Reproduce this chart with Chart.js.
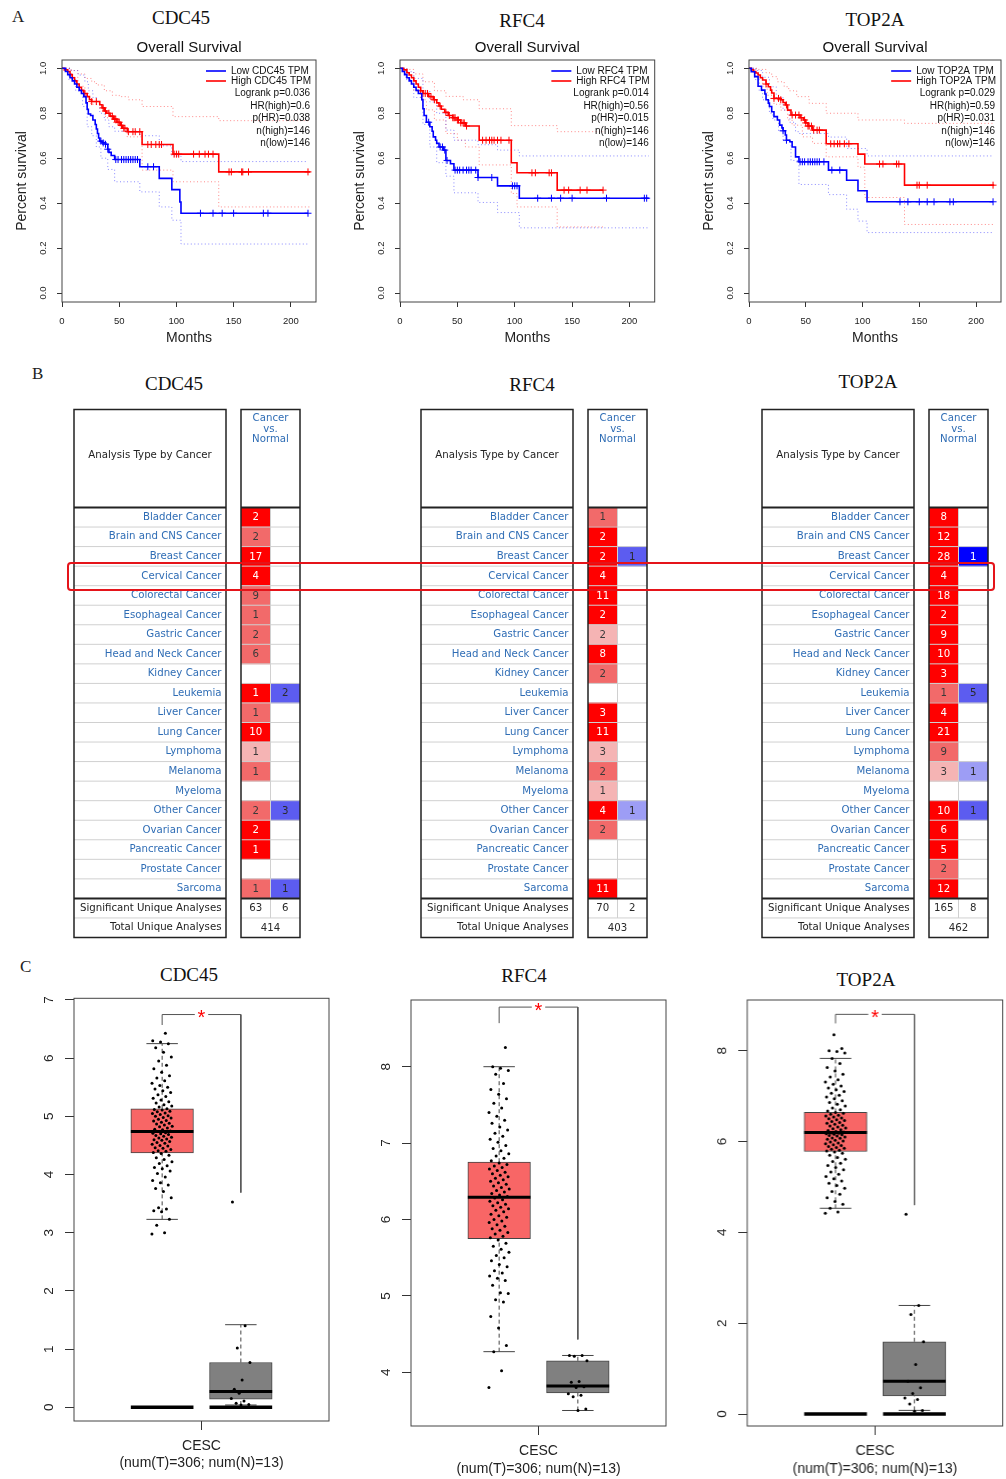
<!DOCTYPE html>
<html>
<head>
<meta charset="utf-8">
<title>CDC45 / RFC4 / TOP2A</title>
<script src="https://cdn.jsdelivr.net/npm/chart.js@4.4.1/dist/chart.umd.min.js"></script>
<style>
  html, body { margin: 0; padding: 0; background: #fff; }
  #page { position: relative; width: 1006px; height: 1479px; overflow: hidden; }
  .panel-tag { position: absolute; font-family: "Liberation Serif", serif; font-size: 17px; color: #222; transform: translateY(-50%); }
  .gene { position: absolute; font-family: "Liberation Serif", serif; font-size: 19px; color: #111; transform: translate(-50%, -50%); white-space: nowrap; }
  .cv { position: absolute; }
  #focus { position: absolute; left: 67px; top: 561.5px; width: 928px; height: 29.5px; box-sizing: border-box;
           border: 2.5px solid #e5141a; border-radius: 4px; z-index: 5; }
</style>
</head>
<body>
<div id="page">
  <div class="panel-tag" style="left:12px;top:17px">A</div>
  <div class="panel-tag" style="left:32px;top:374px">B</div>
  <div class="panel-tag" style="left:20px;top:967px">C</div>

  <div class="gene" id="geneA0" style="left:181px;top:18px"></div>
  <div class="gene" id="geneA1" style="left:522px;top:20.5px"></div>
  <div class="gene" id="geneA2" style="left:875px;top:20px"></div>
  <div class="gene" id="geneB0" style="left:174px;top:384px"></div>
  <div class="gene" id="geneB1" style="left:532px;top:385px"></div>
  <div class="gene" id="geneB2" style="left:868px;top:382px"></div>
  <div class="gene" id="geneC0" style="left:189px;top:975px"></div>
  <div class="gene" id="geneC1" style="left:524px;top:976px"></div>
  <div class="gene" id="geneC2" style="left:866px;top:980px"></div>

  <div class="cv" style="left:0;top:0;width:330px;height:350px"><canvas id="kmCdc45"></canvas></div>
  <div class="cv" style="left:338.3px;top:0;width:330px;height:350px"><canvas id="kmRfc4"></canvas></div>
  <div class="cv" style="left:687px;top:0;width:319px;height:350px"><canvas id="kmTop2a"></canvas></div>

  <div class="cv" style="left:60.5px;top:400px;width:250px;height:570px"><canvas id="tabCdc45"></canvas></div>
  <div class="cv" style="left:407.7px;top:400px;width:250px;height:570px"><canvas id="tabRfc4"></canvas></div>
  <div class="cv" style="left:749px;top:400px;width:250px;height:570px"><canvas id="tabTop2a"></canvas></div>
  <div id="focus"></div>

  <div class="cv" style="left:0;top:960px;width:340px;height:519px"><canvas id="boxCdc45"></canvas></div>
  <div class="cv" style="left:336.7px;top:960px;width:340px;height:519px"><canvas id="boxRfc4"></canvas></div>
  <div class="cv" style="left:673.3px;top:960px;width:332.7px;height:519px"><canvas id="boxTop2a"></canvas></div>
</div>

<script>
/* =========================
   DATA
========================= */

const genes = ['CDC45', 'RFC4', 'TOP2A'];

// --- A: overall survival (months, survival fraction) ---
const kmXTicks = [0, 50, 100, 150, 200];
const kmYTicks = [0, 0.2, 0.4, 0.6, 0.8, 1.0];

const cdc45Low = [[0,1],[3,0.986],[5,0.972],[7,0.958],[9,0.944],[11,0.93],[13,0.916],[15,0.902],[17,0.888],[19,0.874],[21,0.846],[22,0.818],[23,0.797],[25,0.79],[27,0.77],[29,0.75],[30,0.73],[31,0.71],[32,0.69],[33,0.676],[35,0.668],[38,0.662],[40,0.64],[41,0.626],[43,0.612],[46,0.594],[68,0.562],[85,0.51],[96,0.46],[103,0.405],[104,0.355],[215,0.355]];
const cdc45High = [[0,1],[2,0.993],[5,0.986],[7,0.972],[9,0.958],[11,0.944],[13,0.93],[15,0.916],[17,0.902],[19,0.888],[22,0.874],[24,0.86],[26,0.852],[33,0.838],[35,0.824],[37,0.81],[39,0.8],[42,0.787],[45,0.774],[48,0.76],[51,0.746],[53,0.733],[57,0.718],[70,0.661],[97,0.618],[137,0.539],[217,0.539]];
const cdc45LowCensor = [34,36,38,40,47,49,52,54,56,58,60,62,64,66,75,80,121,132,140,150,176,180,215];
const cdc45HighCensor = [20,26,30,36,38,41,44,46,47,49,50,52,54,55,58,62,64,68,75,78,82,85,87,98,100,102,115,120,125,128,132,146,148,157,158,163,215];
const cdc45LowUpper = [[0,1],[8,0.99],[14,0.97],[20,0.94],[23,0.9],[27,0.87],[30,0.84],[33,0.8],[37,0.77],[41,0.74],[46,0.72],[68,0.7],[85,0.655],[96,0.61],[104,0.585],[215,0.585]];
const cdc45LowLower = [[0,1],[6,0.95],[12,0.9],[18,0.83],[22,0.74],[26,0.7],[30,0.65],[34,0.6],[40,0.55],[46,0.495],[68,0.45],[85,0.383],[96,0.324],[104,0.218],[215,0.218]];
const cdc45HighUpper = [[0,1],[8,0.99],[14,0.975],[20,0.955],[26,0.94],[30,0.926],[37,0.9],[44,0.88],[50,0.874],[58,0.86],[70,0.83],[97,0.785],[137,0.767],[217,0.767]];
const cdc45HighLower = [[0,1],[8,0.96],[14,0.92],[20,0.87],[25,0.84],[33,0.82],[38,0.78],[45,0.755],[52,0.72],[57,0.695],[70,0.547],[97,0.495],[137,0.383],[217,0.383]];
const cdc45Stats = ['Logrank p=0.036', 'HR(high)=0.6', 'p(HR)=0.038', 'n(high)=146', 'n(low)=146'];

const rfc4Low = [[0,1],[2,0.986],[4,0.972],[6,0.958],[8,0.944],[10,0.93],[12,0.916],[14,0.902],[16,0.888],[19,0.86],[20,0.82],[21,0.79],[23,0.76],[26,0.74],[28,0.72],[29,0.695],[31,0.68],[32,0.666],[34,0.65],[38,0.636],[40,0.59],[44,0.575],[47,0.547],[68,0.514],[85,0.477],[104,0.422],[217,0.422]];
const rfc4High = [[0,1],[3,0.993],[6,0.98],[8,0.97],[10,0.958],[12,0.944],[14,0.93],[16,0.916],[18,0.9],[20,0.888],[25,0.874],[29,0.86],[32,0.846],[34,0.832],[36,0.818],[39,0.804],[42,0.79],[46,0.78],[50,0.77],[53,0.757],[57,0.743],[69,0.68],[97,0.58],[102,0.535],[137,0.458],[177,0.458]];
const rfc4LowCensor = [25,35,37,39,41,48,50,52,55,58,60,62,66,68,80,98,100,102,120,132,140,150,180,213,215];
const rfc4HighCensor = [18,20,22,24,27,30,35,40,43,46,47,48,50,51,53,55,56,58,72,75,78,80,82,85,88,95,115,118,130,132,143,147,157,163,177];
const rfc4LowUpper = [[0,1],[6,0.985],[12,0.955],[20,0.9],[26,0.85],[32,0.8],[40,0.725],[47,0.68],[68,0.66],[85,0.636],[104,0.61],[217,0.61]];
const rfc4LowLower = [[0,1],[5,0.95],[12,0.87],[20,0.75],[26,0.65],[32,0.58],[40,0.52],[47,0.446],[68,0.403],[85,0.358],[104,0.29],[217,0.29]];
const rfc4HighUpper = [[0,1],[6,0.995],[12,0.975],[20,0.94],[30,0.9],[40,0.875],[55,0.86],[69,0.82],[97,0.745],[137,0.718],[177,0.718]];
const rfc4HighLower = [[0,1],[6,0.97],[12,0.9],[18,0.86],[23,0.815],[30,0.77],[40,0.71],[50,0.68],[57,0.65],[69,0.57],[97,0.443],[102,0.383],[137,0.294],[177,0.294]];
const rfc4Stats = ['Logrank p=0.014', 'HR(high)=0.56', 'p(HR)=0.015', 'n(high)=146', 'n(low)=146'];

const top2aLow = [[0,1],[2,0.985],[5,0.963],[8,0.92],[11,0.903],[14,0.886],[15,0.86],[17,0.845],[18,0.83],[20,0.807],[22,0.785],[25,0.77],[27,0.747],[29,0.735],[30,0.722],[32,0.703],[33,0.68],[36,0.673],[38,0.65],[41,0.606],[44,0.584],[70,0.547],[86,0.502],[96,0.455],[104,0.406],[215,0.406]];
const top2aHigh = [[0,1],[2,0.993],[4,0.986],[6,0.979],[8,0.97],[10,0.958],[12,0.948],[15,0.93],[17,0.918],[19,0.903],[20,0.89],[22,0.866],[28,0.86],[30,0.848],[32,0.837],[34,0.814],[37,0.792],[45,0.78],[48,0.77],[50,0.757],[52,0.743],[56,0.725],[68,0.664],[96,0.618],[102,0.574],[137,0.48],[216,0.48]];
const top2aLowCensor = [30,33,45,47,49,52,54,56,58,60,62,66,73,80,133,140,150,157,163,177,180,215];
const top2aHighCensor = [15,22,26,28,33,38,41,44,46,49,50,52,53,55,57,60,62,72,75,78,80,84,88,115,118,130,132,148,150,157,215];
const top2aLowUpper = [[0,1],[6,0.99],[12,0.96],[18,0.918],[24,0.87],[30,0.814],[36,0.76],[41,0.718],[44,0.71],[70,0.694],[86,0.643],[104,0.61],[215,0.61]];
const top2aLowLower = [[0,1],[5,0.95],[9,0.9],[12,0.86],[18,0.8],[21,0.77],[26,0.72],[30,0.68],[37,0.59],[44,0.483],[70,0.438],[86,0.373],[96,0.32],[104,0.269],[215,0.269]];
const top2aHighUpper = [[0,1],[8,0.995],[15,0.98],[20,0.963],[25,0.94],[31,0.918],[35,0.9],[42,0.874],[53,0.844],[68,0.8],[96,0.77],[137,0.755],[216,0.755]];
const top2aHighLower = [[0,1],[6,0.96],[12,0.92],[16,0.88],[22,0.84],[28,0.814],[34,0.77],[38,0.747],[47,0.695],[56,0.666],[68,0.606],[96,0.56],[102,0.425],[137,0.305],[216,0.305]];
const top2aStats = ['Logrank p=0.029', 'HR(high)=0.59', 'p(HR)=0.031', 'n(high)=146', 'n(low)=146'];

// --- B: Oncomine cancer vs. normal counts (tier: 1 strong, 2 medium, 3 light) ---
const cancerTypes = ['Bladder Cancer','Brain and CNS Cancer','Breast Cancer','Cervical Cancer','Colorectal Cancer','Esophageal Cancer','Gastric Cancer','Head and Neck Cancer','Kidney Cancer','Leukemia','Liver Cancer','Lung Cancer','Lymphoma','Melanoma','Myeloma','Other Cancer','Ovarian Cancer','Pancreatic Cancer','Prostate Cancer','Sarcoma'];
const summaryRows = ['Significant Unique Analyses', 'Total Unique Analyses'];
const headerLeft = 'Analysis Type by Cancer';
const headerRight = ['Cancer', 'vs.', 'Normal'];

const cdc45Up       = [2,2,17,4,9,1,2,6,null,1,1,10,1,1,null,2,2,1,null,1];
const cdc45UpTier   = [1,2,1,1,2,2,2,2,0,1,2,1,3,2,0,2,1,1,0,2];
const cdc45Down     = [null,null,null,null,null,null,null,null,null,2,null,null,null,null,null,3,null,null,null,1];
const cdc45DownTier = [0,0,0,0,0,0,0,0,0,2,0,0,0,0,0,2,0,0,0,2];
const cdc45Sig = [63, 6];
const cdc45Total = 414;

const rfc4Up       = [1,2,2,4,11,2,2,8,2,null,3,11,3,2,1,4,2,null,null,11];
const rfc4UpTier   = [2,1,1,1,1,1,3,1,2,0,1,1,3,2,3,1,2,0,0,1];
const rfc4Down     = [null,null,1,null,null,null,null,null,null,null,null,null,null,null,null,1,null,null,null,null];
const rfc4DownTier = [0,0,2,0,0,0,0,0,0,0,0,0,0,0,0,3,0,0,0,0];
const rfc4Sig = [70, 2];
const rfc4Total = 403;

const top2aUp       = [8,12,28,4,18,2,9,10,3,1,4,21,9,3,null,10,6,5,2,12];
const top2aUpTier   = [1,1,1,1,1,1,1,1,1,2,1,1,2,3,0,1,1,1,2,1];
const top2aDown     = [null,null,1,null,null,null,null,null,null,5,null,null,null,1,null,1,null,null,null,null];
const top2aDownTier = [0,0,1,0,0,0,0,0,0,2,0,0,0,3,0,2,0,0,0,0];
const top2aSig = [165, 8];
const top2aTotal = 462;

// --- C: expression in CESC, box stats = [lower whisker, Q1, median, Q3, upper whisker] ---
const boxCategory = 'CESC';
const boxGroupLabel = '(num(T)=306; num(N)=13)';

const cdc45TumorBox = [3.23, 4.37, 4.74, 5.13, 6.25];
const cdc45NormalBox = [0.04, 0.14, 0.27, 0.77, 1.42];
const cdc45Bracket = [6.57, 6.75, 3.69];
const cdc45YTicks = [0, 1, 2, 3, 4, 5, 6, 7];
const cdc45TumorPts = [2.98,3.0,3.13,3.23,3.36,3.38,3.41,3.43,3.6,3.71,3.76,3.82,3.86,3.9,3.96,4.02,4.06,4.1,4.12,4.15,4.19,4.22,4.26,4.29,4.33,4.36,
  4.38,4.4,4.41,4.43,4.45,4.46,4.49,4.5,4.52,4.54,4.55,4.57,4.59,4.6,4.61,4.63,4.64,4.66,4.67,4.69,4.7,4.71,4.72,4.74,
  4.75,4.77,4.78,4.8,4.82,4.83,4.85,4.87,4.88,4.9,4.92,4.93,4.95,4.97,4.98,5.0,5.01,5.03,5.05,5.06,5.08,5.09,5.11,5.12,5.13,
  5.16,5.18,5.2,5.23,5.25,5.28,5.31,5.34,5.37,5.41,5.44,5.47,5.5,5.53,5.57,5.61,5.66,5.7,5.76,5.82,5.88,5.95,6.02,6.1,6.18,6.25,6.28,6.3,6.43];
const cdc45NormalPts = [3.53,1.40,1.02,0.77,0.47,0.31,0.27,0.24,0.15,0.11,0.07,0.05,0.04];

const rfc4TumorBox = [4.27, 5.75, 6.29, 6.75, 8.0];
const rfc4NormalBox = [3.50, 3.73, 3.82, 4.15, 4.22];
const rfc4Bracket = [8.57, 8.78, 4.43];
const rfc4YTicks = [4, 5, 6, 7, 8];
const rfc4TumorPts = [3.8,4.02,4.27,4.35,4.58,4.73,4.92,4.95,5.03,5.04,5.14,5.2,5.23,5.26,5.3,5.33,5.38,5.41,5.46,5.5,5.53,5.57,5.61,5.65,5.69,5.73,
  5.76,5.78,5.81,5.83,5.86,5.88,5.91,5.93,5.96,5.98,6.0,6.03,6.05,6.07,6.1,6.12,6.14,6.16,6.18,6.2,6.22,6.24,6.26,6.28,
  6.3,6.32,6.34,6.36,6.38,6.4,6.42,6.44,6.46,6.48,6.5,6.52,6.54,6.56,6.58,6.6,6.62,6.64,6.66,6.68,6.7,6.72,6.74,
  6.77,6.8,6.83,6.86,6.9,6.93,6.97,7.01,7.05,7.09,7.13,7.17,7.21,7.26,7.3,7.35,7.4,7.46,7.52,7.58,7.64,7.7,7.78,7.9,7.95,7.98,8.0,8.25];
const rfc4NormalPts = [4.22,4.22,4.21,4.15,3.88,3.87,3.81,3.80,3.72,3.70,3.68,3.52,3.50];

const top2aTumorBox = [4.53, 5.78, 6.2, 6.64, 7.83];
const top2aNormalBox = [0.08, 0.40, 0.72, 1.59, 2.39];
const top2aBracket = [8.6, 8.8, 4.6];
const top2aYTicks = [0, 2, 4, 6, 8];
const top2aTumorPts = [4.42,4.45,4.53,4.62,4.68,4.76,4.84,4.9,4.97,5.03,5.08,5.13,5.18,5.23,5.28,5.33,5.38,5.43,5.47,5.52,5.56,5.61,5.65,5.7,5.74,5.77,
  5.79,5.81,5.83,5.85,5.87,5.89,5.91,5.93,5.95,5.97,5.99,6.01,6.03,6.05,6.07,6.08,6.1,6.12,6.13,6.15,6.16,6.17,6.18,6.19,
  6.21,6.22,6.24,6.26,6.28,6.3,6.32,6.34,6.36,6.38,6.4,6.42,6.44,6.46,6.48,6.5,6.52,6.54,6.56,6.58,6.6,6.62,6.64,
  6.67,6.7,6.74,6.78,6.82,6.86,6.9,6.94,6.98,7.02,7.06,7.1,7.14,7.18,7.22,7.26,7.31,7.36,7.42,7.48,7.55,7.63,7.72,7.83,7.95,7.98,8.0,8.05,8.35];
const top2aNormalPts = [4.40,2.39,2.19,1.59,1.09,0.72,0.58,0.45,0.35,0.32,0.22,0.08,0.06];

/* =========================
   STYLE
========================= */

const BLUE = '#0000ff';
const RED = '#ff0000';
const CI_BLUE = 'rgba(40,40,255,0.55)';
const CI_RED = 'rgba(255,40,40,0.55)';
const LABEL_BLUE = '#2f6db5';
const upColors = { 1: '#ff0000', 2: '#f26a6a', 3: '#f5b4b4' };
const downColors = { 1: '#0000ff', 2: '#5c5cf0', 3: '#9d9df5' };
const SANS = '"Liberation Sans", Arial, sans-serif';
const ONCO_FONT = '10.2px "DejaVu Sans", sans-serif';

Chart.defaults.font.family = SANS;
Chart.defaults.color = '#222';
Chart.defaults.animation = false;

genes.forEach(function(g, i){
    ['A', 'B', 'C'].forEach(function(p){
        document.getElementById('gene' + p + i).textContent = g;
    });
});

/* =========================
   PLUGINS
========================= */

const rFrame = {
    id: 'rFrame',
    afterDraw(chart, args, o){
        const { ctx, chartArea: a } = chart;
        ctx.save();
        ctx.strokeStyle = o.color || '#444';
        ctx.lineWidth = 1;
        ctx.strokeRect(a.left, a.top, a.right - a.left, a.bottom - a.top);
        ctx.restore();
    }
};

const rTitle = {
    id: 'rTitle',
    afterDraw(chart, args, o){
        if(!o.text) return;
        const { ctx, chartArea: a } = chart;
        ctx.save();
        ctx.font = '15px ' + SANS;
        ctx.fillStyle = '#111';
        ctx.textAlign = 'center';
        ctx.textBaseline = 'middle';
        ctx.fillText(o.text, (a.left + a.right) / 2, a.top - 12);
        ctx.restore();
    }
};

const kmLegend = {
    id: 'kmLegend',
    afterDraw(chart, args, o){
        const { ctx, chartArea: a } = chart;
        const sets = chart.data.datasets.slice(0, 2);
        ctx.save();
        ctx.font = '10px ' + SANS;
        ctx.textBaseline = 'middle';
        ctx.fillStyle = '#111';
        const w = Math.max.apply(null, sets.map(d => ctx.measureText(d.label).width));
        const tx = a.right - 5 - w;
        sets.forEach(function(d, i){
            const yy = a.top + 11 + i * 10;
            ctx.strokeStyle = d.borderColor;
            ctx.lineWidth = 1.6;
            ctx.beginPath();
            ctx.moveTo(tx - 25, yy);
            ctx.lineTo(tx - 5, yy);
            ctx.stroke();
            ctx.textAlign = 'left';
            ctx.fillText(d.label, tx, yy);
        });
        ctx.textAlign = 'right';
        o.lines.forEach(function(t, i){
            ctx.fillText(t, a.right - 6, a.top + 33.5 + i * 12.5);
        });
        ctx.restore();
    }
};

const oncoTable = {
    id: 'oncoTable',
    afterDatasetsDraw(chart, args, o){
        const { ctx, chartArea: a, scales: { x, y } } = chart;
        const n = chart.data.labels.length;
        const rowH = y.getPixelForValue(1) - y.getPixelForValue(0);
        const top = a.top - 98;
        const boxR = a.left - 15;
        const boxL = boxR - 152;
        const mid = x.getPixelForValue(1);

        function hline(yy, w, c){
            ctx.strokeStyle = c;
            ctx.lineWidth = w;
            ctx.beginPath();
            ctx.moveTo(boxL, yy); ctx.lineTo(boxR, yy);
            ctx.moveTo(a.left, yy); ctx.lineTo(a.right, yy);
            ctx.stroke();
        }

        ctx.save();
        for(let i = 1; i < n; i++){
            hline(a.top + i * rowH, 1, '#d0d0d0');
        }
        ctx.strokeStyle = '#d0d0d0';
        ctx.lineWidth = 1;
        ctx.beginPath();
        ctx.moveTo(mid, a.top);
        ctx.lineTo(mid, a.bottom - rowH);
        ctx.stroke();

        hline(a.top, 2, '#222');
        hline(a.top + cancerTypes.length * rowH, 2, '#222');

        ctx.strokeStyle = '#222';
        ctx.lineWidth = 1.5;
        ctx.strokeRect(boxL, top, boxR - boxL, a.bottom - top);
        ctx.strokeRect(a.left, top, a.right - a.left, a.bottom - top);

        ctx.font = ONCO_FONT;
        ctx.textAlign = 'center';
        ctx.textBaseline = 'middle';
        ctx.fillStyle = '#222';
        ctx.fillText(headerLeft, (boxL + boxR) / 2, a.top - 52);
        ctx.fillStyle = LABEL_BLUE;
        headerRight.forEach(function(t, i){
            ctx.fillText(t, (a.left + a.right) / 2, a.top - 89 + i * 10.5);
        });

        const c0 = x.getPixelForValue(0.5);
        const c1 = x.getPixelForValue(1.5);
        cancerTypes.forEach(function(name, i){
            const yy = y.getPixelForValue(i) + 0.5;
            if(o.up[i] != null){
                ctx.fillStyle = o.upTier[i] === 1 ? '#fff' : '#3a3a3a';
                ctx.fillText(String(o.up[i]), c0, yy);
            }
            if(o.down[i] != null){
                ctx.fillStyle = o.downTier[i] === 1 ? '#fff' : '#2a2a2a';
                ctx.fillText(String(o.down[i]), c1, yy);
            }
        });
        ctx.fillStyle = '#2a2a2a';
        const ys = y.getPixelForValue(cancerTypes.length) + 0.5;
        ctx.fillText(String(o.sig[0]), c0, ys);
        ctx.fillText(String(o.sig[1]), c1, ys);
        ctx.fillText(String(o.total), mid, y.getPixelForValue(cancerTypes.length + 1) + 0.5);
        ctx.restore();
    }
};

const sigStar = {
    id: 'sigStar',
    afterDatasetsDraw(chart, args, o){
        const { ctx, scales: { x, y } } = chart;
        ctx.save();
        ctx.fillStyle = '#ff0000';
        ctx.font = '20px ' + SANS;
        ctx.textAlign = 'center';
        ctx.textBaseline = 'middle';
        ctx.fillText('*', x.getPixelForValue(0), y.getPixelForValue(o.at) + 4);
        ctx.restore();
    }
};

/* =========================
   HELPERS
========================= */

function survAt(curve, t){
    let s = curve[0][1];
    curve.forEach(function(p){ if(p[0] <= t) s = p[1]; });
    return s;
}

function tickAxis(len){
    return { display: true, drawOnChartArea: false, drawTicks: true, tickLength: len, color: '#333', offset: false };
}

/* =========================
   A: SURVIVAL
========================= */

function survivalChart(canvasId, gene, s, stats, padRight){

    const xy = c => c.map(p => ({ x: p[0], y: p[1] }));
    const marks = (curve, times) => times.map(t => ({ x: t, y: survAt(curve, t) }));
    const ci = (c, color) => ({
        data: xy(c), borderColor: color, borderWidth: 1, borderDash: [1, 2.5],
        stepped: true, pointRadius: 0
    });
    const cens = (curve, times, color) => ({
        data: marks(curve, times), showLine: false, pointStyle: 'cross',
        pointRadius: 3.5, borderColor: color, borderWidth: 1
    });

    new Chart(document.getElementById(canvasId), {
        type: 'line',
        data: {
            datasets: [
                { label: 'Low ' + gene + ' TPM', data: xy(s.low), borderColor: BLUE, borderWidth: 1.6, stepped: true, pointRadius: 0 },
                { label: 'High ' + gene + ' TPM', data: xy(s.high), borderColor: RED, borderWidth: 1.6, stepped: true, pointRadius: 0 },
                cens(s.low, s.lowCens, BLUE),
                cens(s.high, s.highCens, RED),
                ci(s.lowUp, CI_BLUE),
                ci(s.lowLo, CI_BLUE),
                ci(s.highUp, CI_RED),
                ci(s.highLo, CI_RED)
            ]
        },
        options: {
            responsive: true,
            maintainAspectRatio: false,
            events: [],
            layout: { padding: { top: 60, right: padRight, left: 0, bottom: 0 } },
            plugins: {
                legend: { display: false },
                tooltip: { enabled: false },
                rFrame: { color: '#444' },
                rTitle: { text: 'Overall Survival' },
                kmLegend: { lines: stats }
            },
            scales: {
                x: {
                    type: 'linear', min: 0, max: 222,
                    afterBuildTicks: sc => { sc.ticks = kmXTicks.map(v => ({ value: v })); },
                    afterFit: sc => { sc.height = 48; },
                    grid: tickAxis(5),
                    border: { display: false },
                    ticks: { font: { size: 9.5 }, padding: 8.5, maxRotation: 0, minRotation: 0 },
                    title: { display: true, text: 'Months', font: { size: 14 }, padding: { top: 0, bottom: 3.6 } }
                },
                y: {
                    type: 'linear', min: -0.04, max: 1.037,
                    afterBuildTicks: sc => { sc.ticks = kmYTicks.map(v => ({ value: v })); },
                    afterFit: sc => { sc.width = 62; },
                    grid: tickAxis(5),
                    border: { display: false },
                    ticks: { font: { size: 9.5 }, padding: 7.5, minRotation: 90, maxRotation: 90, crossAlign: 'center',
                             callback: v => Number(v).toFixed(1) },
                    title: { display: true, text: 'Percent survival', font: { size: 14 }, padding: { top: 13.6, bottom: 0 } }
                }
            }
        },
        plugins: [rFrame, rTitle, kmLegend]
    });
}

survivalChart('kmCdc45', genes[0], {
    low: cdc45Low, high: cdc45High, lowCens: cdc45LowCensor, highCens: cdc45HighCensor,
    lowUp: cdc45LowUpper, lowLo: cdc45LowLower, highUp: cdc45HighUpper, highLo: cdc45HighLower
}, cdc45Stats, 14);

survivalChart('kmRfc4', genes[1], {
    low: rfc4Low, high: rfc4High, lowCens: rfc4LowCensor, highCens: rfc4HighCensor,
    lowUp: rfc4LowUpper, lowLo: rfc4LowLower, highUp: rfc4HighUpper, highLo: rfc4HighLower
}, rfc4Stats, 13.3);

survivalChart('kmTop2a', genes[2], {
    low: top2aLow, high: top2aHigh, lowCens: top2aLowCensor, highCens: top2aHighCensor,
    lowUp: top2aLowUpper, lowLo: top2aLowLower, highUp: top2aHighUpper, highLo: top2aHighLower
}, top2aStats, 2.7);

/* =========================
   B: ONCOMINE TABLES
========================= */

function oncomineChart(canvasId, up, upTier, down, downTier, sig, total){

    const rows = cancerTypes.concat(summaryRows);

    new Chart(document.getElementById(canvasId), {
        type: 'bar',
        data: {
            labels: rows,
            datasets: [
                {
                    data: rows.map((r, i) => up[i] != null ? [0, 1] : null),
                    backgroundColor: rows.map((r, i) => upColors[upTier[i]] || 'transparent'),
                    grouped: false, barPercentage: 1, categoryPercentage: 1, borderWidth: 0
                },
                {
                    data: rows.map((r, i) => down[i] != null ? [1, 2] : null),
                    backgroundColor: rows.map((r, i) => downColors[downTier[i]] || 'transparent'),
                    grouped: false, barPercentage: 1, categoryPercentage: 1, borderWidth: 0
                }
            ]
        },
        options: {
            indexAxis: 'y',
            responsive: true,
            maintainAspectRatio: false,
            events: [],
            // bottom padding is larger than the tick overhang so the body ends at 937.5
            layout: { padding: { top: 107.5, right: 11, bottom: 32.5, left: 0 } },
            plugins: {
                legend: { display: false },
                tooltip: { enabled: false },
                oncoTable: { up, upTier, down, downTier, sig, total }
            },
            scales: {
                x: { display: false, min: 0, max: 2 },
                y: {
                    afterFit: sc => { sc.width = 180; },
                    grid: { display: false, drawTicks: false },
                    border: { display: false },
                    ticks: {
                        autoSkip: false,
                        padding: 19.5,
                        font: { family: '"DejaVu Sans", sans-serif', size: 10.2 },
                        color: c => c.index < cancerTypes.length ? LABEL_BLUE : '#222'
                    }
                }
            }
        },
        plugins: [oncoTable]
    });
}

oncomineChart('tabCdc45', cdc45Up, cdc45UpTier, cdc45Down, cdc45DownTier, cdc45Sig, cdc45Total);
oncomineChart('tabRfc4', rfc4Up, rfc4UpTier, rfc4Down, rfc4DownTier, rfc4Sig, rfc4Total);
oncomineChart('tabTop2a', top2aUp, top2aUpTier, top2aDown, top2aDownTier, top2aSig, top2aTotal);

/* =========================
   C: BOX PLOTS
========================= */

function expressionChart(canvasId, tumorPts, normalPts, tumorBox, normalBox, bracket, yMin, yMax, yTicks, showZero, lay){

    const gx = [-0.5, 0.5];
    const boxes = [tumorBox, normalBox];
    const halfBox = 0.398;
    const halfCap = 0.2;
    const jit = i => (((i * 0.618034) % 1) - 0.5) * 0.26;

    const pts = tumorPts.map((v, i) => ({ x: gx[0] + jit(i), y: v }))
        .concat(normalPts.map((v, i) => ({ x: gx[1] + jit(i + 5), y: v })));

    const whiskers = [], caps = [], medians = [], zeros = [];
    boxes.forEach(function(b, g){
        const x = gx[g];
        whiskers.push({ x, y: b[0] }, { x, y: b[1] }, { x, y: null }, { x, y: b[3] }, { x, y: b[4] }, { x, y: null });
        caps.push({ x: x - halfCap, y: b[0] }, { x: x + halfCap, y: b[0] }, { x, y: null },
                  { x: x - halfCap, y: b[4] }, { x: x + halfCap, y: b[4] }, { x, y: null });
        medians.push({ x: x - halfBox, y: b[2] }, { x: x + halfBox, y: b[2] }, { x, y: null });
        zeros.push({ x: x - halfBox, y: 0 }, { x: x + halfBox, y: 0 }, { x, y: null });
    });

    const bracketPts = [
        { x: gx[0], y: bracket[0] }, { x: gx[0], y: bracket[1] }, { x: -0.085, y: bracket[1] },
        { x: 0, y: null },
        { x: 0.085, y: bracket[1] }, { x: gx[1], y: bracket[1] }, { x: gx[1], y: bracket[2] }
    ];

    const datasets = [
        { data: pts, showLine: false, pointRadius: 1.5, pointBackgroundColor: '#000', pointBorderWidth: 0 },
        { data: medians, borderColor: '#000', borderWidth: 3, pointRadius: 0 },
        { data: caps, borderColor: '#444', borderWidth: 1, pointRadius: 0 },
        { data: whiskers, borderColor: '#444', borderWidth: 1, borderDash: [4, 3], pointRadius: 0 },
        { data: bracketPts, borderColor: '#555', borderWidth: 1, pointRadius: 0 },
        {
            type: 'bar',
            data: boxes.map((b, g) => ({ x: gx[g], y: [b[1], b[3]] })),
            backgroundColor: ['#f86666', '#808080'],
            borderColor: '#444', borderWidth: 1, borderSkipped: false,
            barThickness: 62.6, grouped: false
        }
    ];
    if(showZero){
        datasets.splice(1, 0, { data: zeros, borderColor: '#000', borderWidth: 3.5, pointRadius: 0 });
    }

    new Chart(document.getElementById(canvasId), {
        type: 'line',
        data: { datasets },
        options: {
            responsive: true,
            maintainAspectRatio: false,
            events: [],
            layout: { padding: { top: lay.top, right: lay.right, left: 0, bottom: 0 } },
            plugins: {
                legend: { display: false },
                tooltip: { enabled: false },
                rFrame: { color: '#444' },
                sigStar: { at: bracket[1] }
            },
            scales: {
                x: {
                    type: 'linear', min: -1.62, max: 1.62, offset: false,
                    afterBuildTicks: sc => { sc.ticks = [{ value: 0 }]; },
                    afterFit: sc => { sc.height = lay.xh; },
                    grid: tickAxis(9),
                    border: { display: false },
                    ticks: { font: { size: 14 }, padding: 8, maxRotation: 0, minRotation: 0, callback: () => boxCategory },
                    title: { display: true, text: boxGroupLabel, font: { size: 14 }, padding: { top: 0, bottom: lay.tb } }
                },
                y: {
                    type: 'linear', min: yMin, max: yMax,
                    afterBuildTicks: sc => { sc.ticks = yTicks.map(v => ({ value: v })); },
                    afterFit: sc => { sc.width = 74; },
                    grid: tickAxis(9),
                    border: { display: false },
                    ticks: { font: { size: 13.5 }, padding: 12.4, minRotation: 90, maxRotation: 90, crossAlign: 'center' }
                }
            }
        },
        plugins: [rFrame, sigStar]
    });
}

expressionChart('boxCdc45', cdc45TumorPts, cdc45NormalPts, cdc45TumorBox, cdc45NormalBox, cdc45Bracket,
    -0.235, 7.029, cdc45YTicks, true, { top: 38.3, right: 11, xh: 58, tb: 7.3 });

expressionChart('boxRfc4', rfc4TumorPts, rfc4NormalPts, rfc4TumorBox, rfc4NormalBox, rfc4Bracket,
    3.297, 8.873, rfc4YTicks, false, { top: 40, right: 11, xh: 53, tb: 1.3 });

expressionChart('boxTop2a', top2aTumorPts, top2aNormalPts, top2aTumorBox, top2aNormalBox, top2aBracket,
    -0.264, 9.116, top2aYTicks, true, { top: 40, right: 3.7, xh: 53, tb: 1.3 });
</script>
</body>
</html>
